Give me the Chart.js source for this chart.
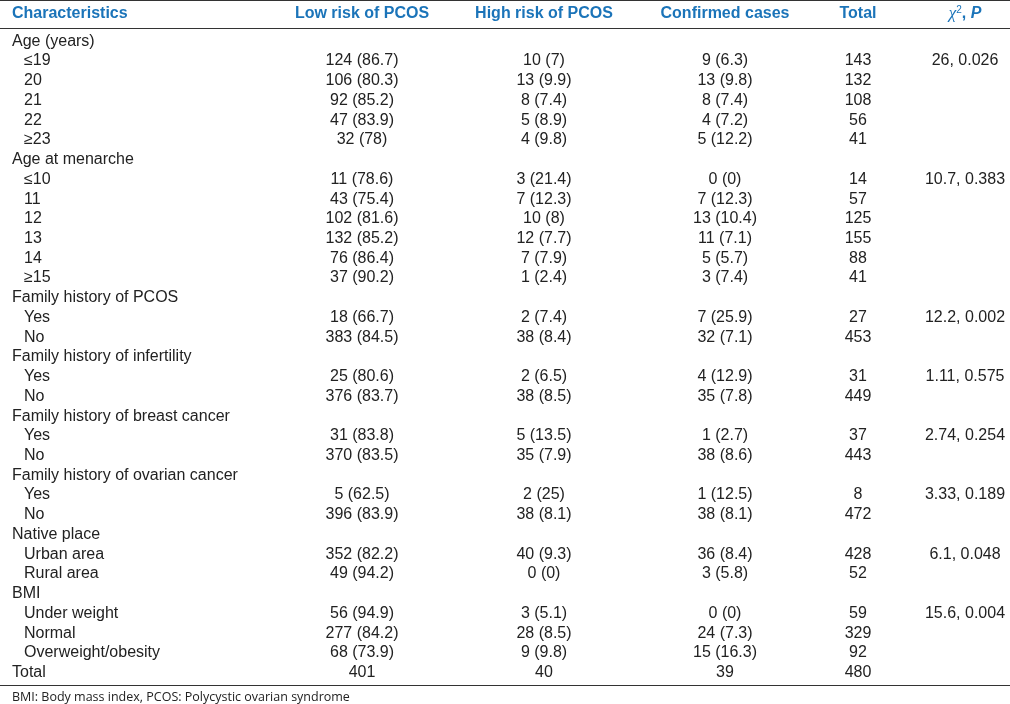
<!DOCTYPE html>
<html>
<head>
<meta charset="utf-8">
<script src="https://cdn.jsdelivr.net/npm/chart.js@4.4.1/dist/chart.umd.min.js"></script>
<style>
  html, body { margin: 0; padding: 0; background: #fff; }
</style>
</head>
<body>
<canvas id="pcosTable" width="1010" height="704"></canvas>
<script>
// table content
const headers = ['Characteristics', 'Low risk of PCOS', 'High risk of PCOS', 'Confirmed cases', 'Total'];

const rowLabels = [
  'Age (years)', '≤19', '20', '21', '22', '≥23',
  'Age at menarche', '≤10', '11', '12', '13', '14', '≥15',
  'Family history of PCOS', 'Yes', 'No',
  'Family history of infertility', 'Yes', 'No',
  'Family history of breast cancer', 'Yes', 'No',
  'Family history of ovarian cancer', 'Yes', 'No',
  'Native place', 'Urban area', 'Rural area',
  'BMI', 'Under weight', 'Normal', 'Overweight/obesity',
  'Total'
];

const lowRiskN     = [null,124,106,92,47,32, null,11,43,102,132,76,37, null,18,383, null,25,376, null,31,370, null,5,396, null,352,49, null,56,277,68, 401];
const lowRiskPct   = [null,86.7,80.3,85.2,83.9,78, null,78.6,75.4,81.6,85.2,86.4,90.2, null,66.7,84.5, null,80.6,83.7, null,83.8,83.5, null,62.5,83.9, null,82.2,94.2, null,94.9,84.2,73.9, null];
const highRiskN    = [null,10,13,8,5,4, null,3,7,10,12,7,1, null,2,38, null,2,38, null,5,35, null,2,38, null,40,0, null,3,28,9, 40];
const highRiskPct  = [null,7,9.9,7.4,8.9,9.8, null,21.4,12.3,8,7.7,7.9,2.4, null,7.4,8.4, null,6.5,8.5, null,13.5,7.9, null,25,8.1, null,9.3,0, null,5.1,8.5,9.8, null];
const confirmedN   = [null,9,13,8,4,5, null,0,7,13,11,5,3, null,7,32, null,4,35, null,1,38, null,1,38, null,36,3, null,0,24,15, 39];
const confirmedPct = [null,6.3,9.8,7.4,7.2,12.2, null,0,12.3,10.4,7.1,5.7,7.4, null,25.9,7.1, null,12.9,7.8, null,2.7,8.6, null,12.5,8.1, null,8.4,5.8, null,0,7.3,16.3, null];
const totals       = [null,143,132,108,56,41, null,14,57,125,155,88,41, null,27,453, null,31,449, null,37,443, null,8,472, null,428,52, null,59,329,92, 480];
const chiSquare    = [null,26,null,null,null,null, null,10.7,null,null,null,null,null, null,12.2,null, null,1.11,null, null,2.74,null, null,3.33,null, null,6.1,null, null,15.6,null,null, null];
const pValues      = [null,0.026,null,null,null,null, null,0.383,null,null,null,null,null, null,0.002,null, null,0.575,null, null,0.254,null, null,0.189,null, null,0.048,null, null,0.004,null,null, null];

const footnote = 'BMI: Body mass index, PCOS: Polycystic ovarian syndrome';

// layout (x anchor of each column on the 0..1010 axis)
const colAnchor = [12, 362, 544, 725, 858, 965];
const indentX = 24;
const textColor = '#222';
const headColor = '#1b74b9';
const ruleColor = '#333';
const bodyFont = '16px "Liberation Sans", Arial, sans-serif';
const headFont = 'bold 16px "Liberation Sans", Arial, sans-serif';

function fmt(n, p) {
  if (n === null) return null;
  return p === null ? String(n) : n + ' (' + p + ')';
}

function buildColumn(texts, xFor, align) {
  const data = [], cellText = [];
  texts.forEach((t, i) => {
    if (t === null) return;
    data.push({x: xFor(i), y: i});
    cellText.push(t);
  });
  return {data, cellText, align, pointRadius: 0, showLine: false};
}

const isSub = (i) => lowRiskN[i] !== null && rowLabels[i] !== 'Total';

const datasets = [
  buildColumn(rowLabels, i => isSub(i) ? indentX : colAnchor[0], 'left'),
  buildColumn(lowRiskN.map((n, i) => fmt(n, lowRiskPct[i])), () => colAnchor[1], 'center'),
  buildColumn(highRiskN.map((n, i) => fmt(n, highRiskPct[i])), () => colAnchor[2], 'center'),
  buildColumn(confirmedN.map((n, i) => fmt(n, confirmedPct[i])), () => colAnchor[3], 'center'),
  buildColumn(totals.map(n => fmt(n, null)), () => colAnchor[4], 'center'),
  buildColumn(chiSquare.map((c, i) => c === null ? null : c + ', ' + pValues[i]), () => colAnchor[5], 'center')
];

const tableText = {
  id: 'tableText',
  afterDatasetsDraw(chart) {
    const ctx = chart.ctx;
    const area = chart.chartArea;
    ctx.save();

    // horizontal rules
    ctx.strokeStyle = ruleColor;
    ctx.lineWidth = 1;
    [0.5, Math.round(area.top - 4) + 0.5, Math.round(area.bottom + 2.5) + 0.5].forEach(y => {
      ctx.beginPath();
      ctx.moveTo(0, y);
      ctx.lineTo(chart.width, y);
      ctx.stroke();
    });

    // header row
    const hy = area.top - 17.5;
    ctx.fillStyle = headColor;
    ctx.font = headFont;
    ctx.textBaseline = 'middle';
    headers.forEach((h, c) => {
      ctx.textAlign = c === 0 ? 'left' : 'center';
      ctx.fillText(h, chart.scales.x.getPixelForValue(colAnchor[c]), hy);
    });
    // chi-square header: χ², P
    const parts = [
      {t: 'χ', f: 'italic 17px "Liberation Serif", serif', dy: 0},
      {t: '2', f: '10px "Liberation Sans", Arial, sans-serif', dy: -4},
      {t: ', ', f: headFont, dy: 0},
      {t: 'P', f: 'italic bold 16px "Liberation Sans", Arial, sans-serif', dy: 0}
    ];
    let w = 0;
    parts.forEach(p => { ctx.font = p.f; p.w = ctx.measureText(p.t).width; w += p.w; });
    let px = chart.scales.x.getPixelForValue(colAnchor[5]) - w / 2;
    ctx.textAlign = 'left';
    parts.forEach(p => { ctx.font = p.f; ctx.fillText(p.t, px, hy + p.dy); px += p.w; });

    // body cells
    ctx.fillStyle = textColor;
    ctx.font = bodyFont;
    chart.data.datasets.forEach((ds, di) => {
      ctx.textAlign = ds.align;
      chart.getDatasetMeta(di).data.forEach((pt, j) => {
        ctx.fillText(ds.cellText[j], pt.x, pt.y);
      });
    });

    // footnote
    ctx.textAlign = 'left';
    ctx.font = '12.5px "Open Sans", sans-serif';
    ctx.fillStyle = textColor;
    ctx.fillText(footnote, colAnchor[0], area.bottom + 14.5);
    ctx.restore();
  }
};

new Chart(document.getElementById('pcosTable'), {
  type: 'scatter',
  data: { datasets },
  options: {
    responsive: false,
    animation: false,
    events: [],
    layout: { padding: { top: 31.5, bottom: 21.5, left: 0, right: 0 } },
    plugins: { legend: { display: false }, tooltip: { enabled: false } },
    scales: {
      x: { type: 'linear', min: 0, max: 1010, display: false },
      y: { type: 'linear', min: -0.5, max: rowLabels.length - 0.5, reverse: true, display: false }
    }
  },
  plugins: [tableText]
});
</script>
</body>
</html>
